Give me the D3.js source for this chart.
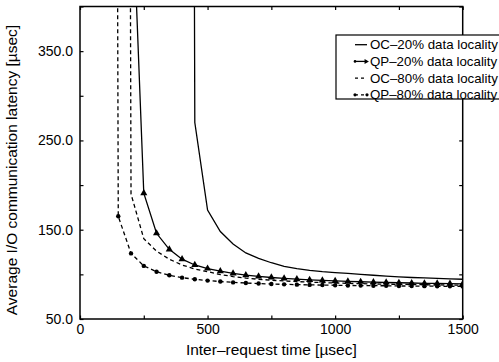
<!DOCTYPE html>
<html>
<head>
<meta charset="utf-8">
<script src="https://cdn.jsdelivr.net/npm/d3@7"></script>
<style>
  html, body { margin: 0; padding: 0; background: #fff; }
  svg { display: block; font-family: "Liberation Sans", Arial, Helvetica, sans-serif; }
</style>
</head>
<body>
<svg id="chart" width="499" height="362"></svg>
<script>
// Inter-request time (µs) and average I/O communication latency (µs) per scheme.
// The first value of each series is past saturation and runs off the top of the plot.
const timeOC20 = [400, 450, 500, 550, 600, 650, 700, 750, 800, 850, 900, 950, 1000,
                  1050, 1100, 1150, 1200, 1250, 1300, 1350, 1400, 1450, 1500];
const latencyOC20 = [5000, 270, 172, 148, 134, 124, 118, 113, 109, 106.5, 104.5, 103, 102,
                     101, 100, 99, 98, 97.2, 96.5, 96, 95.5, 95, 94.5];

const timeQP20 = [200, 250, 300, 350, 400, 450, 500, 550, 600, 650, 700, 750, 800, 850,
                  900, 950, 1000, 1050, 1100, 1150, 1200, 1250, 1300, 1350, 1400, 1450, 1500];
const latencyQP20 = [560, 191, 146, 128, 117, 110.5, 106.5, 103.5, 101, 99.2, 97.8, 96.5, 95.5, 94.6,
                     93.8, 93.2, 92.6, 92.1, 91.7, 91.3, 90.9, 90.6, 90.3, 90, 89.8, 89.6, 89.4];

const timeOC80 = [150, 200, 250, 300, 350, 400, 450, 500, 550, 600, 650, 700, 750, 800, 850,
                  900, 950, 1000, 1050, 1100, 1150, 1200, 1250, 1300, 1350, 1400, 1450, 1500];
const latencyOC80 = [5000, 190, 140, 126, 117, 110.5, 106, 103, 99.8, 97.5, 95.8, 94.5, 93.5, 92.6, 91.9,
                     91.3, 90.8, 90.3, 89.9, 89.6, 89.3, 89, 88.8, 88.6, 88.4, 88.2, 88, 87.9];

const timeQP80 = [100, 150, 200, 250, 300, 350, 400, 450, 500, 550, 600, 650, 700, 750, 800, 850,
                  900, 950, 1000, 1050, 1100, 1150, 1200, 1250, 1300, 1350, 1400, 1450, 1500];
const latencyQP80 = [5000, 165, 123.5, 109.5, 103, 99, 96.3, 94.5, 93, 92, 91, 90.3, 89.7, 89.2, 88.8, 88.5,
                     88.2, 88, 87.8, 87.6, 87.4, 87.3, 87.2, 87, 86.9, 86.8, 86.7, 86.6, 86.5];

const seriesNames = ["OC\u201320% data locality", "QP\u201320% data locality",
                     "OC\u201380% data locality", "QP\u201380% data locality"];

const xTickLabels = [0, 500, 1000, 1500];
const yTickLabels = [50, 150, 250, 350];

const xTitle = "Inter\u2013request time [\u00b5sec]";
const yTitle = "Average I/O communication latency [\u00b5sec]";

// ---- layout ----
const plotLeft = 80, plotRight = 462.7, plotTop = 6.5, plotBottom = 319;
const svg = d3.select("#chart");

const x = d3.scaleLinear().domain([0, 1500]).range([plotLeft, plotRight]);
const y = d3.scaleLinear().domain([50, 400]).range([plotBottom, plotTop]);

const series = [
  { name: seriesNames[0], t: timeOC20, v: latencyOC20, dash: null, marker: null },
  { name: seriesNames[1], t: timeQP20, v: latencyQP20, dash: null, marker: "triangle" },
  { name: seriesNames[2], t: timeOC80, v: latencyOC80, dash: "4,3", marker: null },
  { name: seriesNames[3], t: timeQP80, v: latencyQP80, dash: "4,3", marker: "circle" }
];

svg.append("defs").append("clipPath").attr("id", "plotClip")
  .append("rect").attr("x", plotLeft).attr("y", plotTop)
  .attr("width", plotRight - plotLeft).attr("height", plotBottom - plotTop);

// ---- axes with inward ticks ----
const fontSize = 14;
const axisStyle = g => {
  g.select(".domain").remove();
  g.selectAll("line").attr("stroke", "#000").attr("stroke-width", 1.2);
  g.selectAll("text").attr("fill", "#000").attr("font-size", fontSize)
    .attr("font-family", "Liberation Sans, Arial, sans-serif");
};

svg.append("g").attr("transform", `translate(0,${plotBottom})`)
  .call(d3.axisBottom(x).tickValues(d3.range(0, 1501, 250)).tickSize(-3.5).tickPadding(5)
    .tickFormat(d => xTickLabels.includes(d) ? d : ""))
  .call(axisStyle);

svg.append("g").attr("transform", `translate(0,${plotTop})`)
  .call(d3.axisTop(x).tickValues(d3.range(0, 1501, 250)).tickSize(-3.5).tickFormat(""))
  .call(axisStyle);

svg.append("g").attr("transform", `translate(${plotLeft},0)`)
  .call(d3.axisLeft(y).tickValues(d3.range(50, 401, 50)).tickSize(-3.5).tickPadding(7)
    .tickFormat(d => yTickLabels.includes(d) ? d3.format(".1f")(d) : ""))
  .call(axisStyle);

svg.append("g").attr("transform", `translate(${plotRight},0)`)
  .call(d3.axisRight(y).tickValues(d3.range(50, 401, 50)).tickSize(-3.5).tickFormat(""))
  .call(axisStyle);

// ---- series ----
const plot = svg.append("g").attr("clip-path", "url(#plotClip)");
const line = d3.line().x(d => x(d[0])).y(d => y(d[1]));
const triangle = d3.symbol().type(d3.symbolTriangle).size(22);
const smallTriangle = d3.symbol().type(d3.symbolTriangle).size(11);

series.forEach(s => {
  const pts = s.t.map((t, i) => [t, s.v[i]]);
  plot.append("path").datum(pts)
    .attr("d", line)
    .attr("fill", "none").attr("stroke", "#000").attr("stroke-width", 1.3)
    .attr("stroke-dasharray", s.dash);
  if (s.marker === "triangle") {
    plot.selectAll(null).data(pts).join("path")
      .attr("transform", d => `translate(${x(d[0])},${y(d[1])})`)
      .attr("d", triangle).attr("fill", "#000");
  } else if (s.marker === "circle") {
    plot.selectAll(null).data(pts).join("circle")
      .attr("cx", d => x(d[0])).attr("cy", d => y(d[1])).attr("r", 2.2).attr("fill", "#000");
  }
});

// ---- frame ----
svg.append("rect").attr("x", plotLeft).attr("y", plotTop)
  .attr("width", plotRight - plotLeft).attr("height", plotBottom - plotTop)
  .attr("fill", "none").attr("stroke", "#000").attr("stroke-width", 1.5);

// ---- titles ----
svg.append("text").attr("x", (plotLeft + plotRight) / 2).attr("y", 355)
  .attr("text-anchor", "middle").attr("font-size", 15.5).attr("fill", "#000")
  .text(xTitle);

svg.append("text")
  .attr("transform", `translate(17,170) rotate(-90)`)
  .attr("text-anchor", "middle").attr("font-size", 15.5).attr("fill", "#000")
  .text(yTitle);

// ---- legend ----
const lg = svg.append("g");
lg.append("rect").attr("x", 336).attr("y", 35).attr("width", 170).attr("height", 64)
  .attr("fill", "#fff").attr("stroke", "#000").attr("stroke-width", 1.2);

series.forEach((s, i) => {
  const cy = 44.7 + i * 16.7;
  lg.append("line").attr("x1", 355).attr("x2", 367).attr("y1", cy).attr("y2", cy)
    .attr("stroke", "#000").attr("stroke-width", 1.3).attr("stroke-dasharray", s.dash ? "3,3" : null);
  if (s.marker === "triangle") {
    lg.append("circle").attr("cx", 355).attr("cy", cy).attr("r", 1.3).attr("fill", "#000");
    lg.append("path").attr("transform", `translate(366,${cy}) rotate(90)`)
      .attr("d", smallTriangle).attr("fill", "#000");
  } else if (s.marker === "circle") {
    [355, 367].forEach(px => lg.append("circle")
      .attr("cx", px).attr("cy", cy).attr("r", 1.6).attr("fill", "#000"));
  }
  lg.append("text").attr("x", 370).attr("y", cy + 4.6)
    .attr("font-size", 13.3).attr("fill", "#000").text(s.name);
});
</script>
</body>
</html>
